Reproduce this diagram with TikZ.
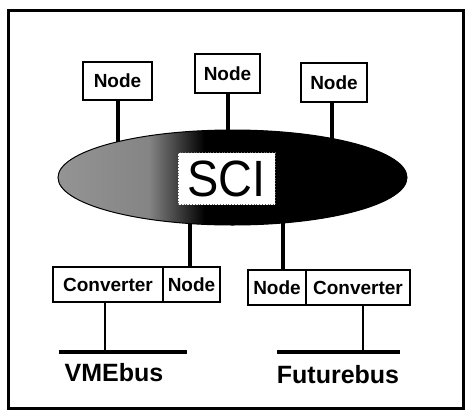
\documentclass[tikz,border=0pt]{standalone}
\usepackage{fontspec}
\setmainfont{Liberation Sans}
\usetikzlibrary{shapes.geometric,backgrounds}
\pgfdeclarehorizontalshading{scigrad}{100bp}{color(0bp)=(black!42); color(25bp)=(black!42); color(38bp)=(black!48); color(46bp)=(black); color(100bp)=(black)}
\begin{document}
\begin{tikzpicture}[x=1pt,y=-1pt,
  box/.style={draw,line width=2.4pt,fill=white,inner sep=0pt,font=\fontsize{19}{19}\selectfont\bfseries},
  stem/.style={line width=4pt},
  thin/.style={line width=2pt},
  bus/.style={line width=4pt},
  buslabel/.style={font=\fontsize{25}{25}\selectfont\bfseries}]
\useasboundingbox (0,0) rectangle (466,413);
\draw[line width=3pt] (8,10) rectangle (463,408);
% SCI ring
\node[ellipse,draw,line width=1pt,shading=scigrad,minimum width=349,minimum height=95,inner sep=0pt] (sci) at (232.5,177.5) {};
\node[draw=black!60,dotted,line width=0.8pt,fill=white,minimum width=97,minimum height=52,inner sep=0pt,font=\fontsize{51}{51}\selectfont] (scibox) at (226.5,178.5) {\scalebox{0.92}[1]{SCI}};
% top nodes
\node[box,minimum width=69,minimum height=38] (n1) at (117.5,81) {Node};
\node[box,minimum width=65,minimum height=39] (n2) at (227.5,73.5) {Node};
\node[box,minimum width=66,minimum height=39] (n3) at (334,82.5) {Node};
% bottom left
\node[box,minimum width=110,minimum height=35] (lc) at (108,284.5) {Converter};
\node[box,minimum width=57,minimum height=35] (ln) at (191.5,284.5) {Node};
% bottom right
\node[box,minimum width=58,minimum height=35] (rn) at (277,287.5) {Node};
\node[box,minimum width=104,minimum height=35] (rc) at (358,287.5) {Converter};
\begin{scope}[on background layer]
\draw[stem] (n1.south) -- (n1.south |- sci.center);
\draw[stem] (n2.south) -- (n2.south |- sci.center);
\draw[stem] ([xshift=-2]n3.south) -- ([xshift=-2]n3.south |- sci.center);
\draw[stem] ([xshift=-2]ln.north) -- ([xshift=-2]ln.north |- sci.center);
\draw[stem] ([xshift=6]rn.north) -- ([xshift=6]rn.north |- sci.center);
\end{scope}
% buses
\coordinate (v1) at (59,352);
\coordinate (v2) at (187,352);
\coordinate (f1) at (277,352);
\coordinate (f2) at (400,352);
\draw[bus] (v1) -- (v2);
\draw[bus] (f1) -- (f2);
\draw[thin] ([xshift=-3]lc.south) -- ([xshift=-3]lc.south |- v1);
\draw[thin] ([xshift=5]rc.south) -- ([xshift=5]rc.south |- f1);
\node[buslabel] (vme) at (114,373) {VMEbus};
\node[buslabel] (fut) at (338,375) {Futurebus};
\end{tikzpicture}
\end{document}
